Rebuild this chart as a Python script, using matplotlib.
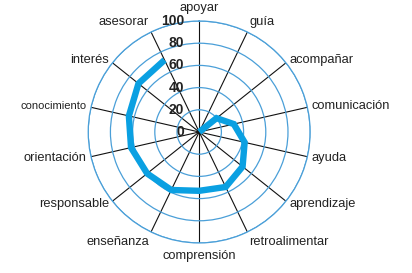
import numpy as np
import matplotlib
matplotlib.use("Agg")
import matplotlib.pyplot as plt
from matplotlib.transforms import offset_copy

categories = ["apoyar", "guía", "acompañar", "comunicación", "ayuda", "aprendizaje",
              "retroalimentar", "comprensión", "enseñanza", "responsable", "orientación",
              "conocimiento", "interés", "asesorar"]
values = [0, 0, 20, 32, 42, 50, 55, 53, 58, 60, 63, 65, 70, 72]
rticks = [0, 20, 40, 60, 80, 100]

FONT = ["Liberation Sans Narrow", "Liberation Sans", "DejaVu Sans"]
plt.rcParams["font.family"] = FONT

fig = plt.figure(figsize=(4.12, 2.73), dpi=100)
ax = fig.add_axes([0.214, 0.110, 0.539, 0.813], projection="polar")
ax.set_theta_zero_location("N")
ax.set_theta_direction(-1)

n = len(categories)
theta = np.arange(n) * 2 * np.pi / n

ax.set_ylim(0, 100)
ax.set_rgrids([20, 40, 60, 80, 100], labels=[""] * 5)
ax.set_thetagrids(np.degrees(theta), labels=[""] * n)
ax.yaxis.grid(True, color="#4a9fd8", linewidth=0.9)
ax.xaxis.grid(True, color="#111111", linewidth=0.8)
ax.spines["polar"].set_color("#4a9fd8")
ax.spines["polar"].set_linewidth(0.9)
ax.set_facecolor("white")

ax.plot(theta, values, color="#0aa0e2", linewidth=4.6, solid_joinstyle="miter",
        solid_capstyle="butt", zorder=5)

for t, lab in zip(theta, categories):
    s, c = np.sin(t), np.cos(t)
    ha = "center" if abs(s) < 0.1 else ("left" if s > 0 else "right")
    va = "bottom" if c > 0.8 else ("top" if c < -0.8 else "center")
    r = 106 if abs(s) < 0.1 else 104
    fs = 8.0 if lab == "conocimiento" else 9.3
    ax.text(t, r, lab, ha=ha, va=va, fontsize=fs, color="#222222",
            clip_on=False)

trans = offset_copy(ax.transData, fig=fig, x=-15, y=0, units="dots")
for rv in rticks:
    ax.text(0, rv, str(rv), transform=trans, ha="right", va="center",
            fontsize=10, fontweight="bold", color="#222222", zorder=6)

fig.savefig("out.png", dpi=100, facecolor="white")
